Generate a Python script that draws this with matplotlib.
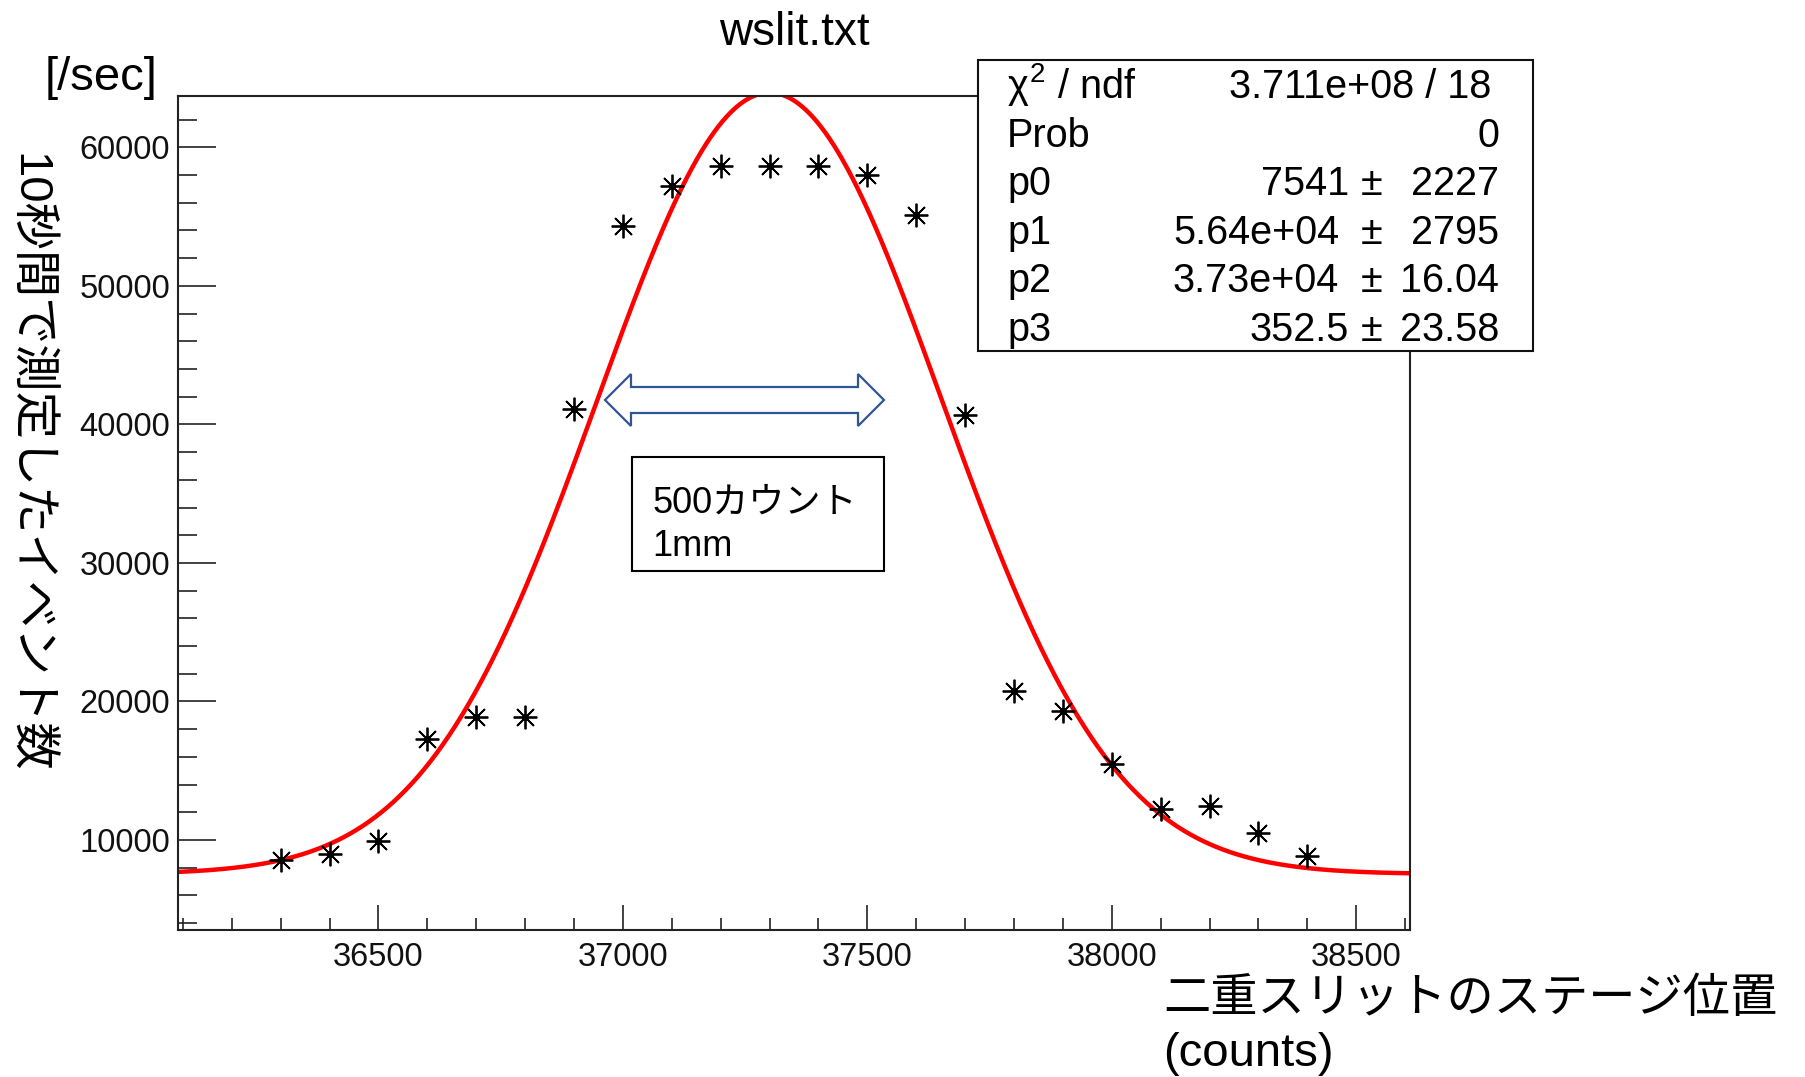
import numpy as np
import matplotlib.pyplot as plt
from matplotlib.patches import Rectangle, Polygon
from matplotlib.ticker import MultipleLocator

# stage position of the double slit (counts) and events counted in 10 s
position = [36300, 36400, 36500, 36600, 36700, 36800, 36900, 37000, 37100, 37200, 37300,
            37400, 37500, 37600, 37700, 37800, 37900, 38000, 38100, 38200, 38300, 38400]
events = [8520, 8990, 9950, 17300, 18900, 18900, 41100, 54350, 57200, 58640, 58640,
          58690, 58010, 55130, 40650, 20780, 19340, 15490, 12250, 12440, 10500, 8830]

# gaus + const fit: p0 + p1*exp(-0.5*((x-p2)/p3)^2)
p0, p1, p2, p3 = 7541, 5.64e4, 3.73e4, 352.5

stat_names = [r'$\chi^{2}$ / ndf', 'Prob', 'p0', 'p1', 'p2', 'p3']
stat_values = ['3.711e+08 / 18', '0', '7541', '5.64e+04', '3.73e+04', '352.5']
stat_errors = [None, None, '2227', '2795', '16.04', '23.58']

plt.rcParams['mathtext.fontset'] = 'custom'
plt.rcParams['mathtext.rm'] = 'Liberation Sans'
plt.rcParams['mathtext.it'] = 'Liberation Sans'
plt.rcParams['font.family'] = ['Liberation Sans', 'Noto Sans CJK JP']

W, H = 1805, 1077


def fx(x):
    return x / W


def fy(y):
    return 1 - y / H


fig = plt.figure(figsize=(W / 100, H / 100), dpi=100)
ax = fig.add_axes([fx(178), fy(930), (1410 - 178) / W, (930 - 96) / H])

# ROOT style ranges: 10% margin around the data
xr = max(position) - min(position)
yr = max(events) - min(events)
ax.set_xlim(min(position) - 0.1 * xr, max(position) + 0.1 * xr)
ax.set_ylim(min(events) - 0.1 * yr, max(events) + 0.1 * yr)

xf = np.linspace(*ax.get_xlim(), 1200)
yf = p0 + p1 * np.exp(-0.5 * ((xf - p2) / p3) ** 2)
ax.plot(xf, yf, color='#ff0000', lw=3.2, zorder=2)

ax.plot(position, events, ls='none', marker=(8, 2, 0), ms=17, mew=1.3,
        color='black', zorder=3)
ax.plot(position, events, ls='none', marker='o', ms=4, color='black', zorder=3)

for s in ax.spines.values():
    s.set_linewidth(1.5)
    s.set_color('#222222')

ax.xaxis.set_major_locator(MultipleLocator(500))
ax.xaxis.set_minor_locator(MultipleLocator(100))
ax.yaxis.set_major_locator(MultipleLocator(10000))
ax.yaxis.set_minor_locator(MultipleLocator(2000))
ax.tick_params(which='both', direction='in', width=1.2, color='#222222',
               top=False, right=False, labelsize=23.5, labelcolor='#111111')
ax.tick_params(axis='x', which='major', length=18, pad=9)
ax.tick_params(axis='x', which='minor', length=8.6)
ax.tick_params(axis='y', which='major', length=27, pad=5.5)
ax.tick_params(axis='y', which='minor', length=13.5)

# title and axis titles
fig.text(fx(794), fy(45), 'wslit.txt', ha='center', va='baseline', fontsize=33)
fig.text(fx(101), fy(90), '[/sec]', ha='center', va='baseline', fontsize=34)
fig.text(fx(28), fy(463), '10秒間で測定したイベント数', rotation=-90,
         ha='center', va='center', fontsize=34)
fig.text(fx(1163), fy(1012), '二重スリットのステージ位置', ha='left', va='baseline', fontsize=34)
fig.text(fx(1163), fy(1066), '(counts)', ha='left', va='baseline', fontsize=34)

# stats box
fig.add_artist(Rectangle((fx(978), fy(351)), (1533 - 978) / W, (351 - 60) / H,
                         transform=fig.transFigure, facecolor='white',
                         edgecolor='#111111', lw=1.5, zorder=5))
baselines = [98, 147, 195, 244, 292, 341]
for i, name in enumerate(stat_names):
    fig.text(fx(1007), fy(baselines[i]), name, ha='left', va='baseline',
             fontsize=28.5, zorder=6)
    if stat_errors[i] is None:
        xr_ = 1491 if i == 0 else 1499
        fig.text(fx(xr_), fy(baselines[i]), stat_values[i], ha='right',
                 va='baseline', fontsize=28.5, zorder=6)
    else:
        xv = 1339 if 'e' in stat_values[i] else 1349
        fig.text(fx(xv), fy(baselines[i]), stat_values[i], ha='right',
                 va='baseline', fontsize=28.5, zorder=6)
        fig.text(fx(1372), fy(baselines[i]), '±', ha='center',
                 va='baseline', fontsize=28.5, zorder=6)
        fig.text(fx(1499), fy(baselines[i]), stat_errors[i], ha='right',
                 va='baseline', fontsize=28.5, zorder=6)

# double arrow showing 500 counts
arrow_px = [(605, 400), (631, 374), (631, 387), (858, 387), (858, 374), (884, 400),
            (858, 426), (858, 413), (631, 413), (631, 426)]
fig.add_artist(Polygon([(fx(a), fy(b)) for a, b in arrow_px], closed=True,
                       transform=fig.transFigure, facecolor='white',
                       edgecolor='#2f5597', lw=1.6, zorder=5))

fig.add_artist(Rectangle((fx(632), fy(571)), (884 - 632) / W, (571 - 457) / H,
                         transform=fig.transFigure, facecolor='white',
                         edgecolor='black', lw=1.5, zorder=5))
fig.text(fx(652), fy(513), '500カウント', ha='left', va='baseline', fontsize=26, zorder=6)
fig.text(fx(652), fy(556), '1mm', ha='left', va='baseline', fontsize=26, zorder=6)

fig.savefig('out.png', dpi=100)
